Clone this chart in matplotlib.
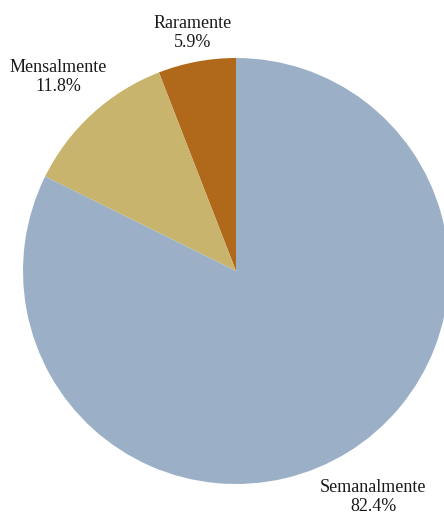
import matplotlib
matplotlib.use("Agg")
import matplotlib.pyplot as plt

categories = ["Raramente", "Mensalmente", "Semanalmente"]
values = [5.9, 11.8, 82.4]
colors = ["#B0691A", "#C8B46D", "#9BB0C7"]

# label anchor positions in pixel coords (x, y from top)
label_pos = [(193, 33), (58, 77), (373, 497)]

W, H = 444, 514
fig = plt.figure(figsize=(W / 100, H / 100), dpi=100)
ax = fig.add_axes([0, 0, 1, 1])

ax.pie(values, colors=colors, startangle=90, counterclock=True,
       center=(236, H - 271), radius=213, frame=True,
       wedgeprops=dict(linewidth=0))
ax.set_xlim(0, W)
ax.set_ylim(0, H)
ax.set_aspect("equal")
ax.axis("off")

for cat, val, (x, y) in zip(categories, values, label_pos):
    ax.text(x, H - y, f"{cat}\n{val:.1f}%", ha="center", va="center",
            fontsize=13, family="Liberation Serif", color="#1a1a1a",
            linespacing=1.22)

fig.savefig("out.png", dpi=100)
